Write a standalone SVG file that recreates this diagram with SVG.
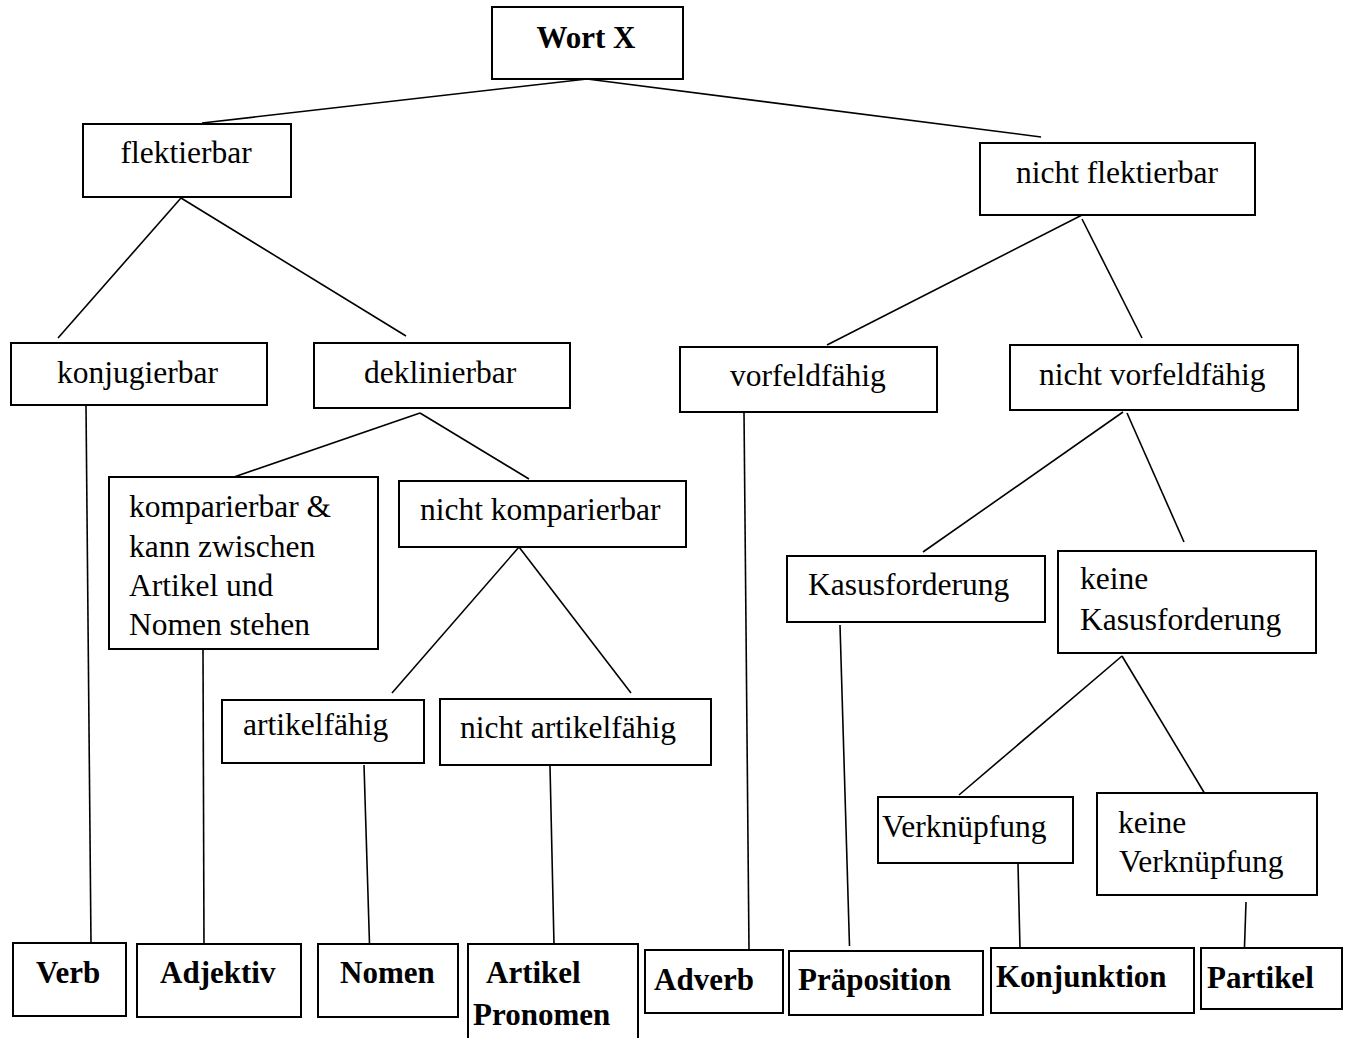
<svg xmlns="http://www.w3.org/2000/svg" width="1351" height="1038" viewBox="0 0 1351 1038">
<style>
rect{fill:#fff;stroke:#000;stroke-width:2}
text{font-family:"Liberation Serif","Times New Roman",serif;font-size:31.5px;fill:#000}
.b{font-weight:bold;font-size:31px}
#connectors line{stroke:#000;stroke-width:1.6}
</style>
<rect x="0" y="0" width="1351" height="1038" style="stroke:none"/>
<g id="connectors">
<line x1="587" y1="79" x2="202" y2="123"/>
<line x1="587" y1="79" x2="1041" y2="137"/>
<line x1="181" y1="198" x2="58" y2="338"/>
<line x1="181" y1="198" x2="406" y2="336"/>
<line x1="1086" y1="213" x2="827" y2="345"/>
<line x1="1082" y1="219" x2="1142" y2="338"/>
<line x1="86" y1="405" x2="91" y2="943"/>
<line x1="420" y1="413" x2="234" y2="477"/>
<line x1="420" y1="413" x2="529" y2="479"/>
<line x1="519" y1="547" x2="392" y2="693"/>
<line x1="519" y1="547" x2="631" y2="693"/>
<line x1="203" y1="649" x2="204" y2="947"/>
<line x1="364" y1="765" x2="369.5" y2="944"/>
<line x1="550" y1="766" x2="554" y2="945"/>
<line x1="744" y1="412" x2="749" y2="949"/>
<line x1="1123" y1="412" x2="923" y2="552"/>
<line x1="1127" y1="413" x2="1184" y2="542"/>
<line x1="840" y1="625" x2="849.5" y2="946"/>
<line x1="1122" y1="656" x2="959" y2="795"/>
<line x1="1122" y1="656" x2="1205" y2="794"/>
<line x1="1018" y1="864" x2="1020" y2="949"/>
<line x1="1246" y1="902" x2="1244.5" y2="947"/>
</g>
<g id="wort"><rect x="492" y="7" width="191" height="72"/><text class="b" x="586" y="48" text-anchor="middle">Wort X</text></g>
<g id="flektierbar"><rect x="83" y="124" width="208" height="73"/><text x="120.5" y="163">flektierbar</text></g>
<g id="nicht-flektierbar"><rect x="980" y="143" width="275" height="72"/><text x="1016" y="183">nicht flektierbar</text></g>
<g id="konjugierbar"><rect x="11" y="343" width="256" height="62"/><text x="57" y="383">konjugierbar</text></g>
<g id="deklinierbar"><rect x="314" y="343" width="256" height="65"/><text x="364" y="383">deklinierbar</text></g>
<g id="vorfeldfaehig"><rect x="680" y="347" width="257" height="65"/><text x="730" y="386">vorfeldfähig</text></g>
<g id="nicht-vorfeldfaehig"><rect x="1010" y="345" width="288" height="65"/><text x="1039" y="385">nicht vorfeldfähig</text></g>
<g id="komparierbar"><rect x="109" y="477" width="269" height="172"/>
<text x="129" y="517">komparierbar &amp;</text><text x="129" y="557">kann zwischen</text><text x="129" y="596">Artikel und</text><text x="129" y="635">Nomen stehen</text></g>
<g id="nicht-komparierbar"><rect x="399" y="481" width="287" height="66"/><text x="420" y="520">nicht komparierbar</text></g>
<g id="kasusforderung"><rect x="787" y="556" width="258" height="66"/><text x="808" y="595">Kasusforderung</text></g>
<g id="keine-kasusforderung"><rect x="1058" y="551" width="258" height="102"/><text x="1080" y="589">keine</text><text x="1080" y="630">Kasusforderung</text></g>
<g id="artikelfaehig"><rect x="222" y="700" width="202" height="63"/><text x="243" y="735">artikelfähig</text></g>
<g id="nicht-artikelfaehig"><rect x="440" y="699" width="271" height="66"/><text x="460" y="738">nicht artikelfähig</text></g>
<g id="verknuepfung"><rect x="878" y="797" width="195" height="66"/><text x="882" y="837">Verknüpfung</text></g>
<g id="keine-verknuepfung"><rect x="1097" y="793" width="220" height="102"/><text x="1118" y="833">keine</text><text x="1119" y="872">Verknüpfung</text></g>
<g id="verb"><rect x="13" y="943" width="113" height="73"/><text class="b" x="36" y="983">Verb</text></g>
<g id="adjektiv"><rect x="137" y="944" width="164" height="73"/><text class="b" x="160" y="983">Adjektiv</text></g>
<g id="nomen"><rect x="318" y="944" width="140" height="73"/><text class="b" x="340" y="983">Nomen</text></g>
<g id="artikel-pronomen"><rect x="468" y="944" width="170" height="100"/><text class="b" x="486" y="983">Artikel</text><text class="b" x="473" y="1025">Pronomen</text></g>
<g id="adverb"><rect x="645" y="950" width="138" height="63"/><text class="b" x="654" y="990">Adverb</text></g>
<g id="praeposition"><rect x="789" y="951" width="194" height="64"/><text class="b" x="798" y="990">Präposition</text></g>
<g id="konjunktion"><rect x="991" y="948" width="203" height="65"/><text class="b" x="996" y="987">Konjunktion</text></g>
<g id="partikel"><rect x="1201" y="948" width="141" height="61"/><text class="b" x="1207" y="988">Partikel</text></g>
</svg>
